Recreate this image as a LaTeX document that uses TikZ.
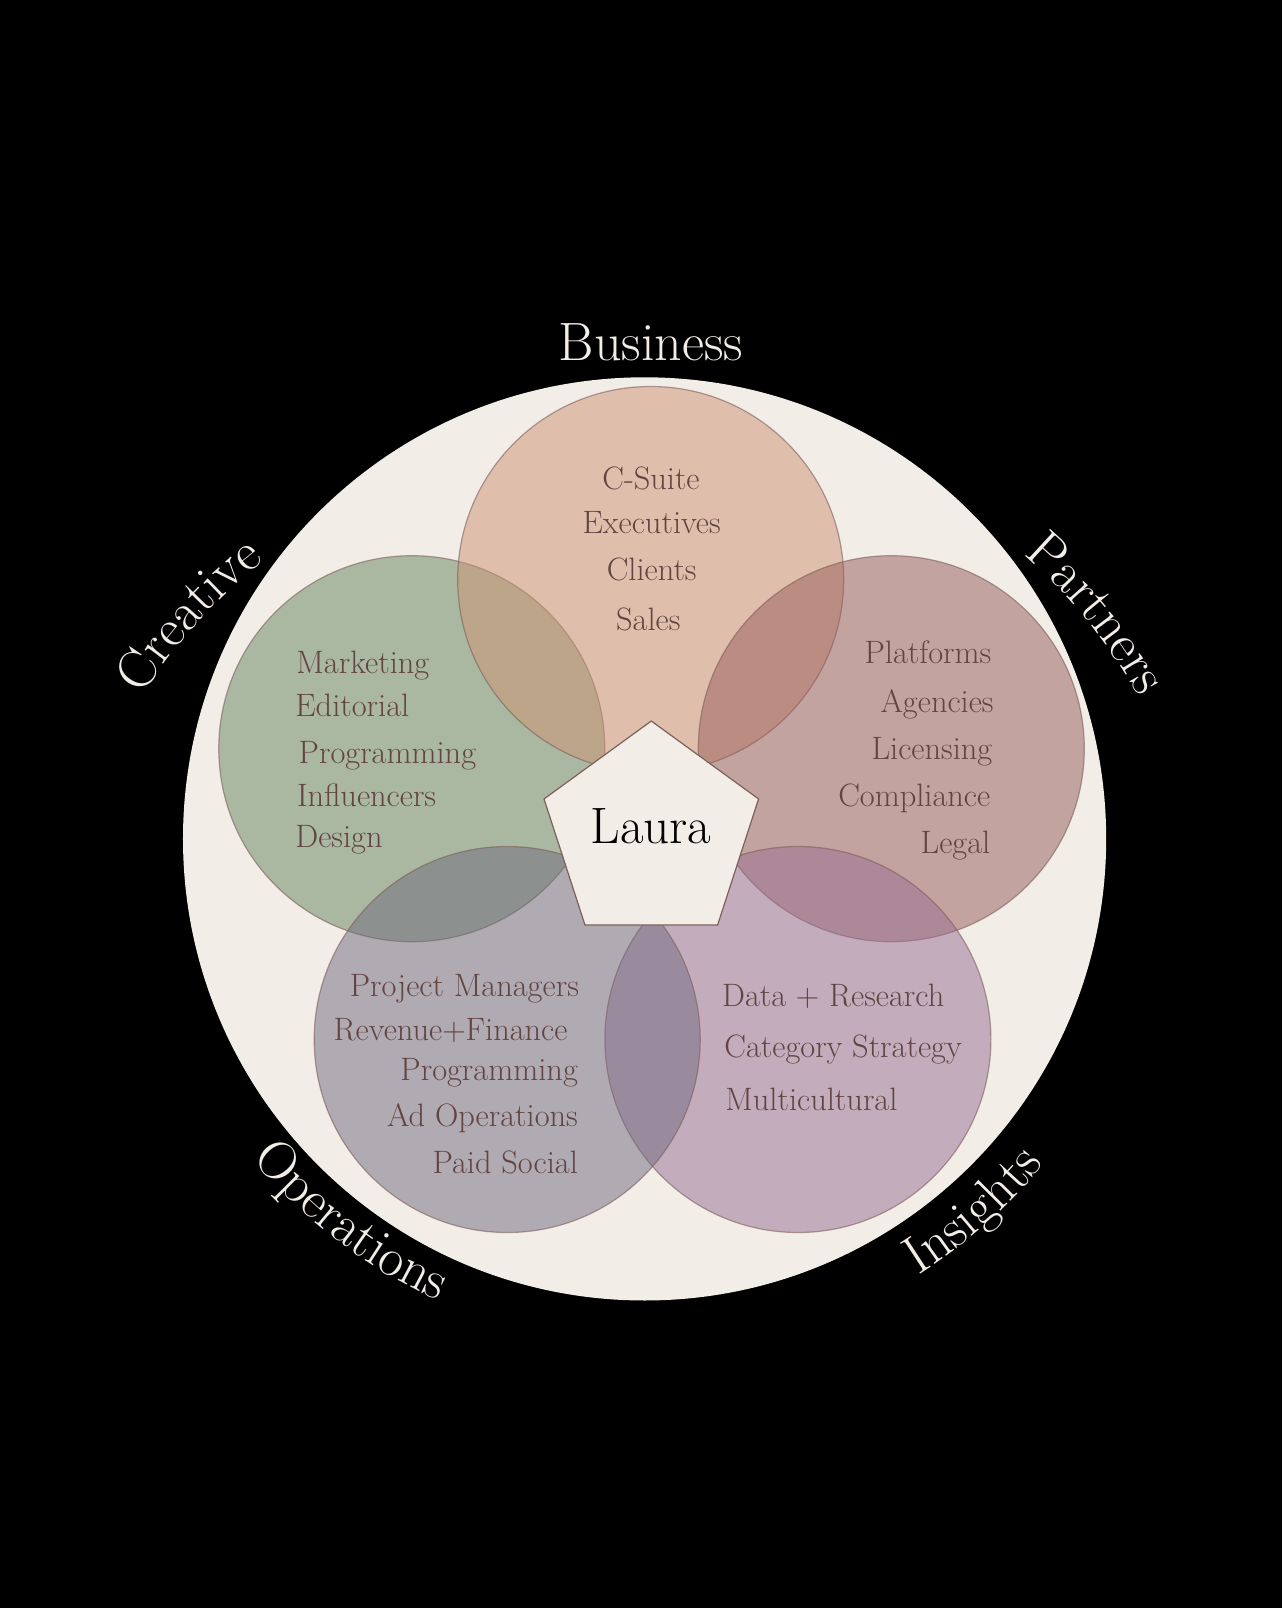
\documentclass[tikz,border=0pt]{standalone}
\usetikzlibrary{shapes.geometric,decorations.text}
\definecolor{cream}{RGB}{242,237,231}
\definecolor{textc}{RGB}{98,68,66}
\definecolor{edgec}{RGB}{125,95,92}
\definecolor{cBus}{RGB}{206,147,115}
\definecolor{cCre}{RGB}{100,133,93}
\definecolor{cPar}{RGB}{150,91,89}
\definecolor{cIns}{RGB}{150,111,147}
\definecolor{cOps}{RGB}{112,105,127}
\begin{document}
\begin{tikzpicture}[x=0.5pt,y=0.5pt,
  petal/.style={circle, inner sep=0pt, minimum size=193pt, fill opacity=0.5,
    draw=edgec, draw opacity=0.6, line width=0.6pt},
  item/.style={text=textc, font=\fontsize{16.2}{19}\selectfont, inner sep=0pt},
  title/.style={text=cream, font=\fontsize{27}{32}\selectfont, inner sep=0pt},
  curved/.style={postaction={decorate}, decoration={text along path, text align=center,
    text={|\fontsize{27}{32}\selectfont\color{cream}|#1}}}]
\fill[black] (-644.6,-769.1) rectangle (637.4,838.9);
\useasboundingbox (-644.6,-769.1) rectangle (637.4,838.9);
% big circle
\node[circle, fill=cream, inner sep=0pt, minimum size=461.6pt] (outer) at (0,0) {};
% petals
\node[petal, fill=cCre] (creative) at (-232.8,90.2) {};
\node[petal, fill=cBus] (business) at (6.1,259.4) {};
\node[petal, fill=cPar] (partners) at (246.7,90.2) {};
\node[petal, fill=cIns] (insights) at (153.3,-200.6) {};
\node[petal, fill=cOps] (operations) at (-137.4,-200.6) {};
% pentagon
\node[regular polygon, regular polygon sides=5, minimum size=112.8pt, inner sep=0pt,
  fill=cream, draw=edgec, line width=0.6pt] (penta) at (6.7,5.1) {};
\node[font=\fontsize{25.6}{30}\selectfont, text=black, inner sep=0pt] (laura) at (6.5,12.5) {Laura};
% titles
\node[title, anchor=base] (tbus) at (6.2,478.9) {Business};
\path[curved=Creative] ([shift={(-60.6,-131.9)}]168:520) arc[start angle=168, end angle=108, radius=520];
\path[curved=Partners] ([shift={(38.6,-109.1)}]69:520) arc[start angle=69, end angle=9, radius=520];
\path[curved=Operations] (197.5:506) arc[start angle=197.5, end angle=267.5, radius=506];
\path[curved=Insights] (-83.5:515) arc[start angle=-83.5, end angle=-13.5, radius=515];
% business items
\node[item, anchor=base] (b1) at (6.4,349.6) {C-Suite};
\node[item, anchor=base] (b2) at (7.1,305.6) {Executives};
\node[item, anchor=base] (b3) at (7.1,258.9) {Clients};
\node[item, anchor=base] (b4) at (3.7,208.9) {Sales};
% creative items
\node[item, anchor=base west] (c1) at (-348.6,165.6) {Marketing};
\node[item, anchor=base west] (c2) at (-349.6,122.2) {Editorial};
\node[item, anchor=base west] (c3) at (-346.3,75.6) {Programming};
\node[item, anchor=base west] (c4) at (-347.9,32.9) {Influencers};
\node[item, anchor=base west] (c5) at (-349.6,-8.4) {Design};
% partners items
\node[item, anchor=base east] (p1) at (347.1,175.6) {Platforms};
\node[item, anchor=base east] (p2) at (349.4,126.2) {Agencies};
\node[item, anchor=base east] (p3) at (348.1,79.6) {Licensing};
\node[item, anchor=base east] (p4) at (346.1,32.2) {Compliance};
\node[item, anchor=base east] (p5) at (346.1,-14.4) {Legal};
% operations items
\node[item, anchor=base east] (o1) at (-65.3,-157.8) {Project Managers};
\node[item, anchor=base west] (o2) at (-311.3,-201.1) {Revenue+Finance};
\node[item, anchor=base east] (o3) at (-66.3,-241.1) {Programming};
\node[item, anchor=base east] (o4) at (-66.3,-287.8) {Ad Operations};
\node[item, anchor=base east] (o5) at (-66.3,-334.4) {Paid Social};
% insights items
\node[item, anchor=base west] (i1) at (77.1,-167.8) {Data + Research};
\node[item, anchor=base west] (i2) at (79.4,-218.4) {Category Strategy};
\node[item, anchor=base west] (i3) at (80.4,-271.1) {Multicultural};
\end{tikzpicture}
\end{document}
